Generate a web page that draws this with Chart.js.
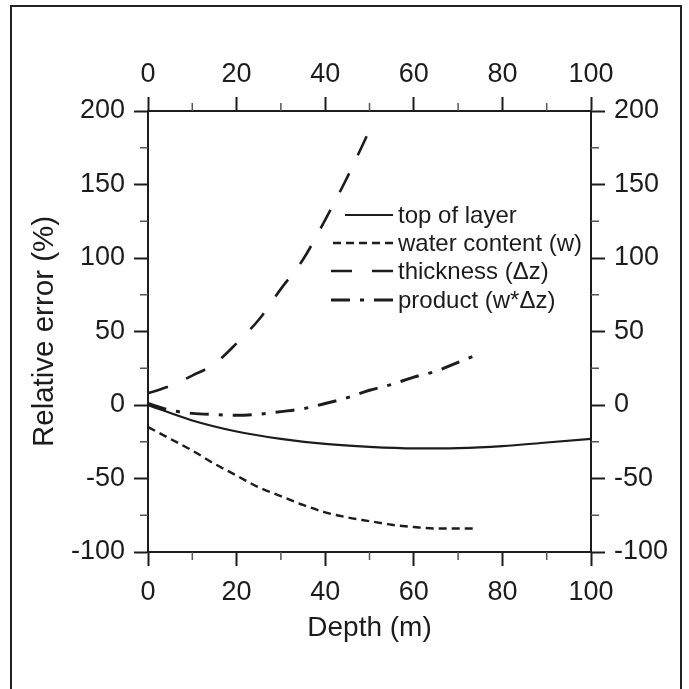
<!DOCTYPE html>
<html>
<head>
<meta charset="utf-8">
<script src="https://cdn.jsdelivr.net/npm/chart.js@4.4.1/dist/chart.umd.min.js"></script>
<style>
    html, body { margin: 0; padding: 0; background: #fff; }
    #wrap { position: relative; width: 689px; height: 689px; overflow: hidden; }
    #frame { position: absolute; left: 10px; top: 5px; width: 668px; height: 700px; border: 2px solid #222; border-bottom: none; }
    canvas { position: absolute; left: 0; top: 0; }
</style>
</head>
<body>
<div id="wrap">
    <div id="frame"></div>
    <canvas id="grafico" width="689" height="689"></canvas>
</div>
<script>
// valores
const depthTop = [0, 10, 20, 30, 40, 50, 60, 70, 80, 90, 100];
const errorTop = [0, -10.5, -18, -23, -26.5, -28.5, -29.5, -29.3, -28, -25.5, -23];

const depthWater = [0, 5, 10, 15, 20, 25, 30, 35, 40, 45, 50, 55, 60, 65, 70, 74];
const errorWater = [-15, -23, -31, -40, -48, -56, -62, -68, -73, -76.5, -79, -81.5, -83, -84, -84, -84];

const depthThick = [0, 5, 10, 15, 20, 25, 30, 35, 40, 45, 50];
const errorThick = [8, 13, 20, 28, 42, 58, 79, 99, 126, 155, 187];

const depthProduct = [0, 5, 10, 15, 20, 25, 30, 35, 40, 45, 50, 55, 60, 65, 70, 75];
const errorProduct = [1, -3.5, -5.7, -6.5, -7, -6.3, -4.5, -2.5, 1, 5, 10, 14, 19, 23, 29, 35];

const seriesLabels = ['top of layer', 'water content (w)', 'thickness (\u0394z)', 'product (w*\u0394z)'];

const xTickValues = [0, 20, 40, 60, 80, 100];
const xMinorValues = [10, 30, 50, 70, 90];
const yTickValues = [-100, -50, 0, 50, 100, 150, 200];
const yMinorValues = [-75, -25, 25, 75, 125, 175];

const ink = '#1c1c1c';
const fam = '"Liberation Sans", Arial, Helvetica, sans-serif';

function pares(xs, ys) {
    return xs.map((x, i) => ({ x: x, y: ys[i] }));
}

const minorTicks = {
    id: 'minorTicks',
    afterDraw(chart) {
        const { ctx, chartArea: a, scales } = chart;
        ctx.save();
        ctx.strokeStyle = '#555';
        ctx.lineWidth = 1.5;
        ctx.beginPath();
        xMinorValues.forEach(v => {
            const px = scales.x.getPixelForValue(v);
            ctx.moveTo(px, a.bottom); ctx.lineTo(px, a.bottom + 8);
            ctx.moveTo(px, a.top); ctx.lineTo(px, a.top - 8);
        });
        yMinorValues.forEach(v => {
            const py = scales.y.getPixelForValue(v);
            ctx.moveTo(a.left, py); ctx.lineTo(a.left - 8, py);
            ctx.moveTo(a.right, py); ctx.lineTo(a.right + 8, py);
        });
        ctx.stroke();
        ctx.restore();
    }
};

// leyenda dentro del area del grafico
const legendBox = {
    id: 'legendBox',
    afterDatasetsDraw(chart) {
        const ctx = chart.ctx;
        const rows = [
            { y: 215, x0: 345 },
            { y: 243, x0: 333 },
            { y: 271, x0: 325 },
            { y: 300, x0: 325 },
        ];
        chart.data.datasets.forEach((ds, i) => {
            const r = rows[i];
            ctx.save();
            ctx.strokeStyle = ds.borderColor;
            ctx.lineWidth = ds.borderWidth;
            ctx.setLineDash(ds.borderDash || []);
            ctx.beginPath();
            ctx.moveTo(393, r.y);
            ctx.lineTo(r.x0, r.y);
            ctx.stroke();
            ctx.setLineDash([]);
            ctx.fillStyle = ink;
            ctx.font = '24px ' + fam;
            ctx.textBaseline = 'middle';
            ctx.fillText(ds.label, 398, r.y + 1);
            ctx.restore();
        });
    }
};

function eje(position, values, extra) {
    const horiz = position === 'top' || position === 'bottom';
    return Object.assign({
        type: 'linear',
        position: position,
        min: horiz ? 0 : -100,
        max: horiz ? 100 : 200,
        afterBuildTicks: s => { s.ticks = values.map(v => ({ value: v })); },
        ticks: {
            color: ink,
            font: { family: fam, size: 27 },
            padding: horiz ? (position === 'top' ? 6 : 10) : 9,
            autoSkip: false,
            maxRotation: 0,
        },
        grid: {
            drawOnChartArea: false,
            drawTicks: true,
            tickLength: 14,
            tickColor: ink,
            tickWidth: 2,
        },
        border: { display: true, color: ink, width: 2 },
    }, extra);
}

const ctx = document.getElementById('grafico').getContext('2d');
const chart = new Chart(ctx, {
    type: 'line',
    data: {
        datasets: [
            {
                label: seriesLabels[0],
                data: pares(depthTop, errorTop),
                borderColor: ink,
                borderWidth: 2.2,
                borderDash: [],
            },
            {
                label: seriesLabels[1],
                data: pares(depthWater, errorWater),
                borderColor: ink,
                borderWidth: 2.4,
                borderDash: [8, 5],
            },
            {
                label: seriesLabels[2],
                data: pares(depthThick, errorThick),
                borderColor: ink,
                borderWidth: 2.6,
                borderDash: [21, 20],
            },
            {
                label: seriesLabels[3],
                data: pares(depthProduct, errorProduct),
                borderColor: ink,
                borderWidth: 3,
                borderDash: [19, 10, 4, 10],
            },
        ],
    },
    options: {
        responsive: false,
        animation: false,
        devicePixelRatio: 1,
        layout: { padding: 0 },
        elements: {
            point: { radius: 0 },
            line: { cubicInterpolationMode: 'monotone', fill: false },
        },
        scales: {
            x: eje('bottom', xTickValues, {
                title: {
                    display: true, text: 'Depth (m)', color: ink,
                    font: { family: fam, size: 28 }, padding: { top: 0, bottom: 44 },
                },
                afterFit: s => { s.height = 689 - 552; },
            }),
            x2: eje('top', xTickValues, {
                afterFit: s => { s.height = 111; },
            }),
            y: eje('left', yTickValues, {
                title: {
                    display: true, text: 'Relative error (%)', color: ink,
                    font: { family: fam, size: 29.5 }, padding: { top: 27, bottom: 0 },
                },
                afterFit: s => { s.width = 148; },
            }),
            y2: eje('right', yTickValues, {
                afterFit: s => { s.width = 689 - 591; },
            }),
        },
        plugins: {
            legend: { display: false },
            tooltip: { enabled: false },
        },
    },
    plugins: [minorTicks, legendBox],
});
</script>
</body>
</html>
